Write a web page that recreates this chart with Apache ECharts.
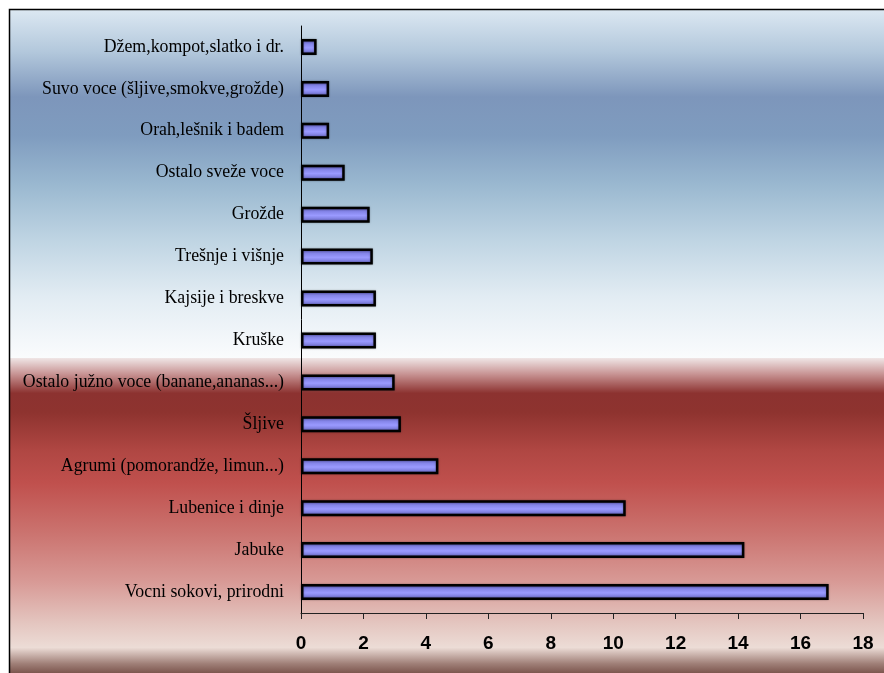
<!DOCTYPE html>
<html>
<head>
<meta charset="utf-8">
<script src="https://cdn.jsdelivr.net/npm/echarts@6/dist/echarts.min.js"></script>
<style>
html,body{margin:0;padding:0;background:#ffffff;}
#chart{width:884px;height:673px;}
</style>
</head>
<body>
<div id="chart"></div>
<script>
const categories = [
  "Džem,kompot,slatko i dr.",
  "Suvo voce (šljive,smokve,grožde)",
  "Orah,lešnik i badem",
  "Ostalo sveže voce",
  "Grožde",
  "Trešnje i višnje",
  "Kajsije i breskve",
  "Kruške",
  "Ostalo južno voce (banane,ananas...)",
  "Šljive",
  "Agrumi (pomorandže, limun...)",
  "Lubenice i dinje",
  "Jabuke",
  "Vocni sokovi, prirodni"
];
const values = [0.5, 0.9, 0.9, 1.4, 2.2, 2.3, 2.4, 2.4, 3.0, 3.2, 4.4, 10.4, 14.2, 16.9];
const xTicks = [0, 2, 4, 6, 8, 10, 12, 14, 16, 18];

const chart = echarts.init(document.getElementById('chart'), null, {renderer: 'canvas'});

const blueGrad = new echarts.graphic.LinearGradient(0, 0, 0, 1, [
  {offset: 0, color: '#dce8f2'},
  {offset: 0.12, color: '#b3c8dc'},
  {offset: 0.25, color: '#7d96bb'},
  {offset: 0.36, color: '#7f9cbf'},
  {offset: 0.5, color: '#9ab8d0'},
  {offset: 0.65, color: '#bdd3e2'},
  {offset: 0.82, color: '#e2ecf3'},
  {offset: 1, color: '#fbfcfd'}
]);
const redGrad = new echarts.graphic.LinearGradient(0, 0, 0, 1, [
  {offset: 0, color: '#f0e6e6'},
  {offset: 0.05, color: '#c89494'},
  {offset: 0.11, color: '#8c3230'},
  {offset: 0.17, color: '#8e332f'},
  {offset: 0.29, color: '#b04743'},
  {offset: 0.39, color: '#c0504d'},
  {offset: 0.55, color: '#cb7470'},
  {offset: 0.70, color: '#d89a96'},
  {offset: 0.83, color: '#e4c6c0'},
  {offset: 0.905, color: '#ecdcd6'},
  {offset: 0.955, color: '#a08078'},
  {offset: 1, color: '#6a4038'}
]);

const option = {
  animation: false,
  graphic: [
    {type: 'rect', z: -10, shape: {x: 9.5, y: 9.5, width: 880, height: 350}, style: {fill: blueGrad}},
    {type: 'rect', z: -10, shape: {x: 9.5, y: 358, width: 880, height: 320}, style: {fill: redGrad}},
    {type: 'rect', z: -9, shape: {x: 9.5, y: 9.5, width: 880, height: 670}, style: {fill: 'none', stroke: '#000', lineWidth: 1.5}}
  ],
  grid: {left: 301, right: 21, top: 26, bottom: 60, containLabel: false},
  xAxis: {
    type: 'value',
    min: 0, max: 18, interval: 2,
    axisLine: {show: true, lineStyle: {color: '#222', width: 1}},
    axisTick: {show: true, length: 6, lineStyle: {color: '#222'}},
    splitLine: {show: false},
    axisLabel: {
      fontFamily: 'Liberation Sans, Arial', fontWeight: 'bold', fontSize: 19, color: '#000', margin: 21,
      formatter: function (v) { return xTicks.indexOf(v) >= 0 ? String(v) : ''; }
    }
  },
  yAxis: {
    type: 'category',
    data: categories,
    inverse: true,
    axisLine: {show: true, lineStyle: {color: '#000', width: 1}},
    axisTick: {show: false},
    axisLabel: {fontFamily: 'Liberation Serif, Times New Roman', fontSize: 17.8, color: '#000', margin: 17}
  },
  series: [{
    type: 'bar',
    data: values,
    barWidth: 16,
    itemStyle: {
      color: new echarts.graphic.LinearGradient(0, 0, 0, 1, [
        {offset: 0, color: '#5050a0'},
        {offset: 0.3, color: '#8484e8'},
        {offset: 0.55, color: '#9a9aff'},
        {offset: 0.8, color: '#7c7cdc'},
        {offset: 1, color: '#4a4a98'}
      ]),
      borderColor: '#000',
      borderWidth: 2.5,
      shadowColor: 'rgba(0,0,0,0.35)',
      shadowBlur: 2
    }
  }]
};
chart.setOption(option);
</script>
</body>
</html>
